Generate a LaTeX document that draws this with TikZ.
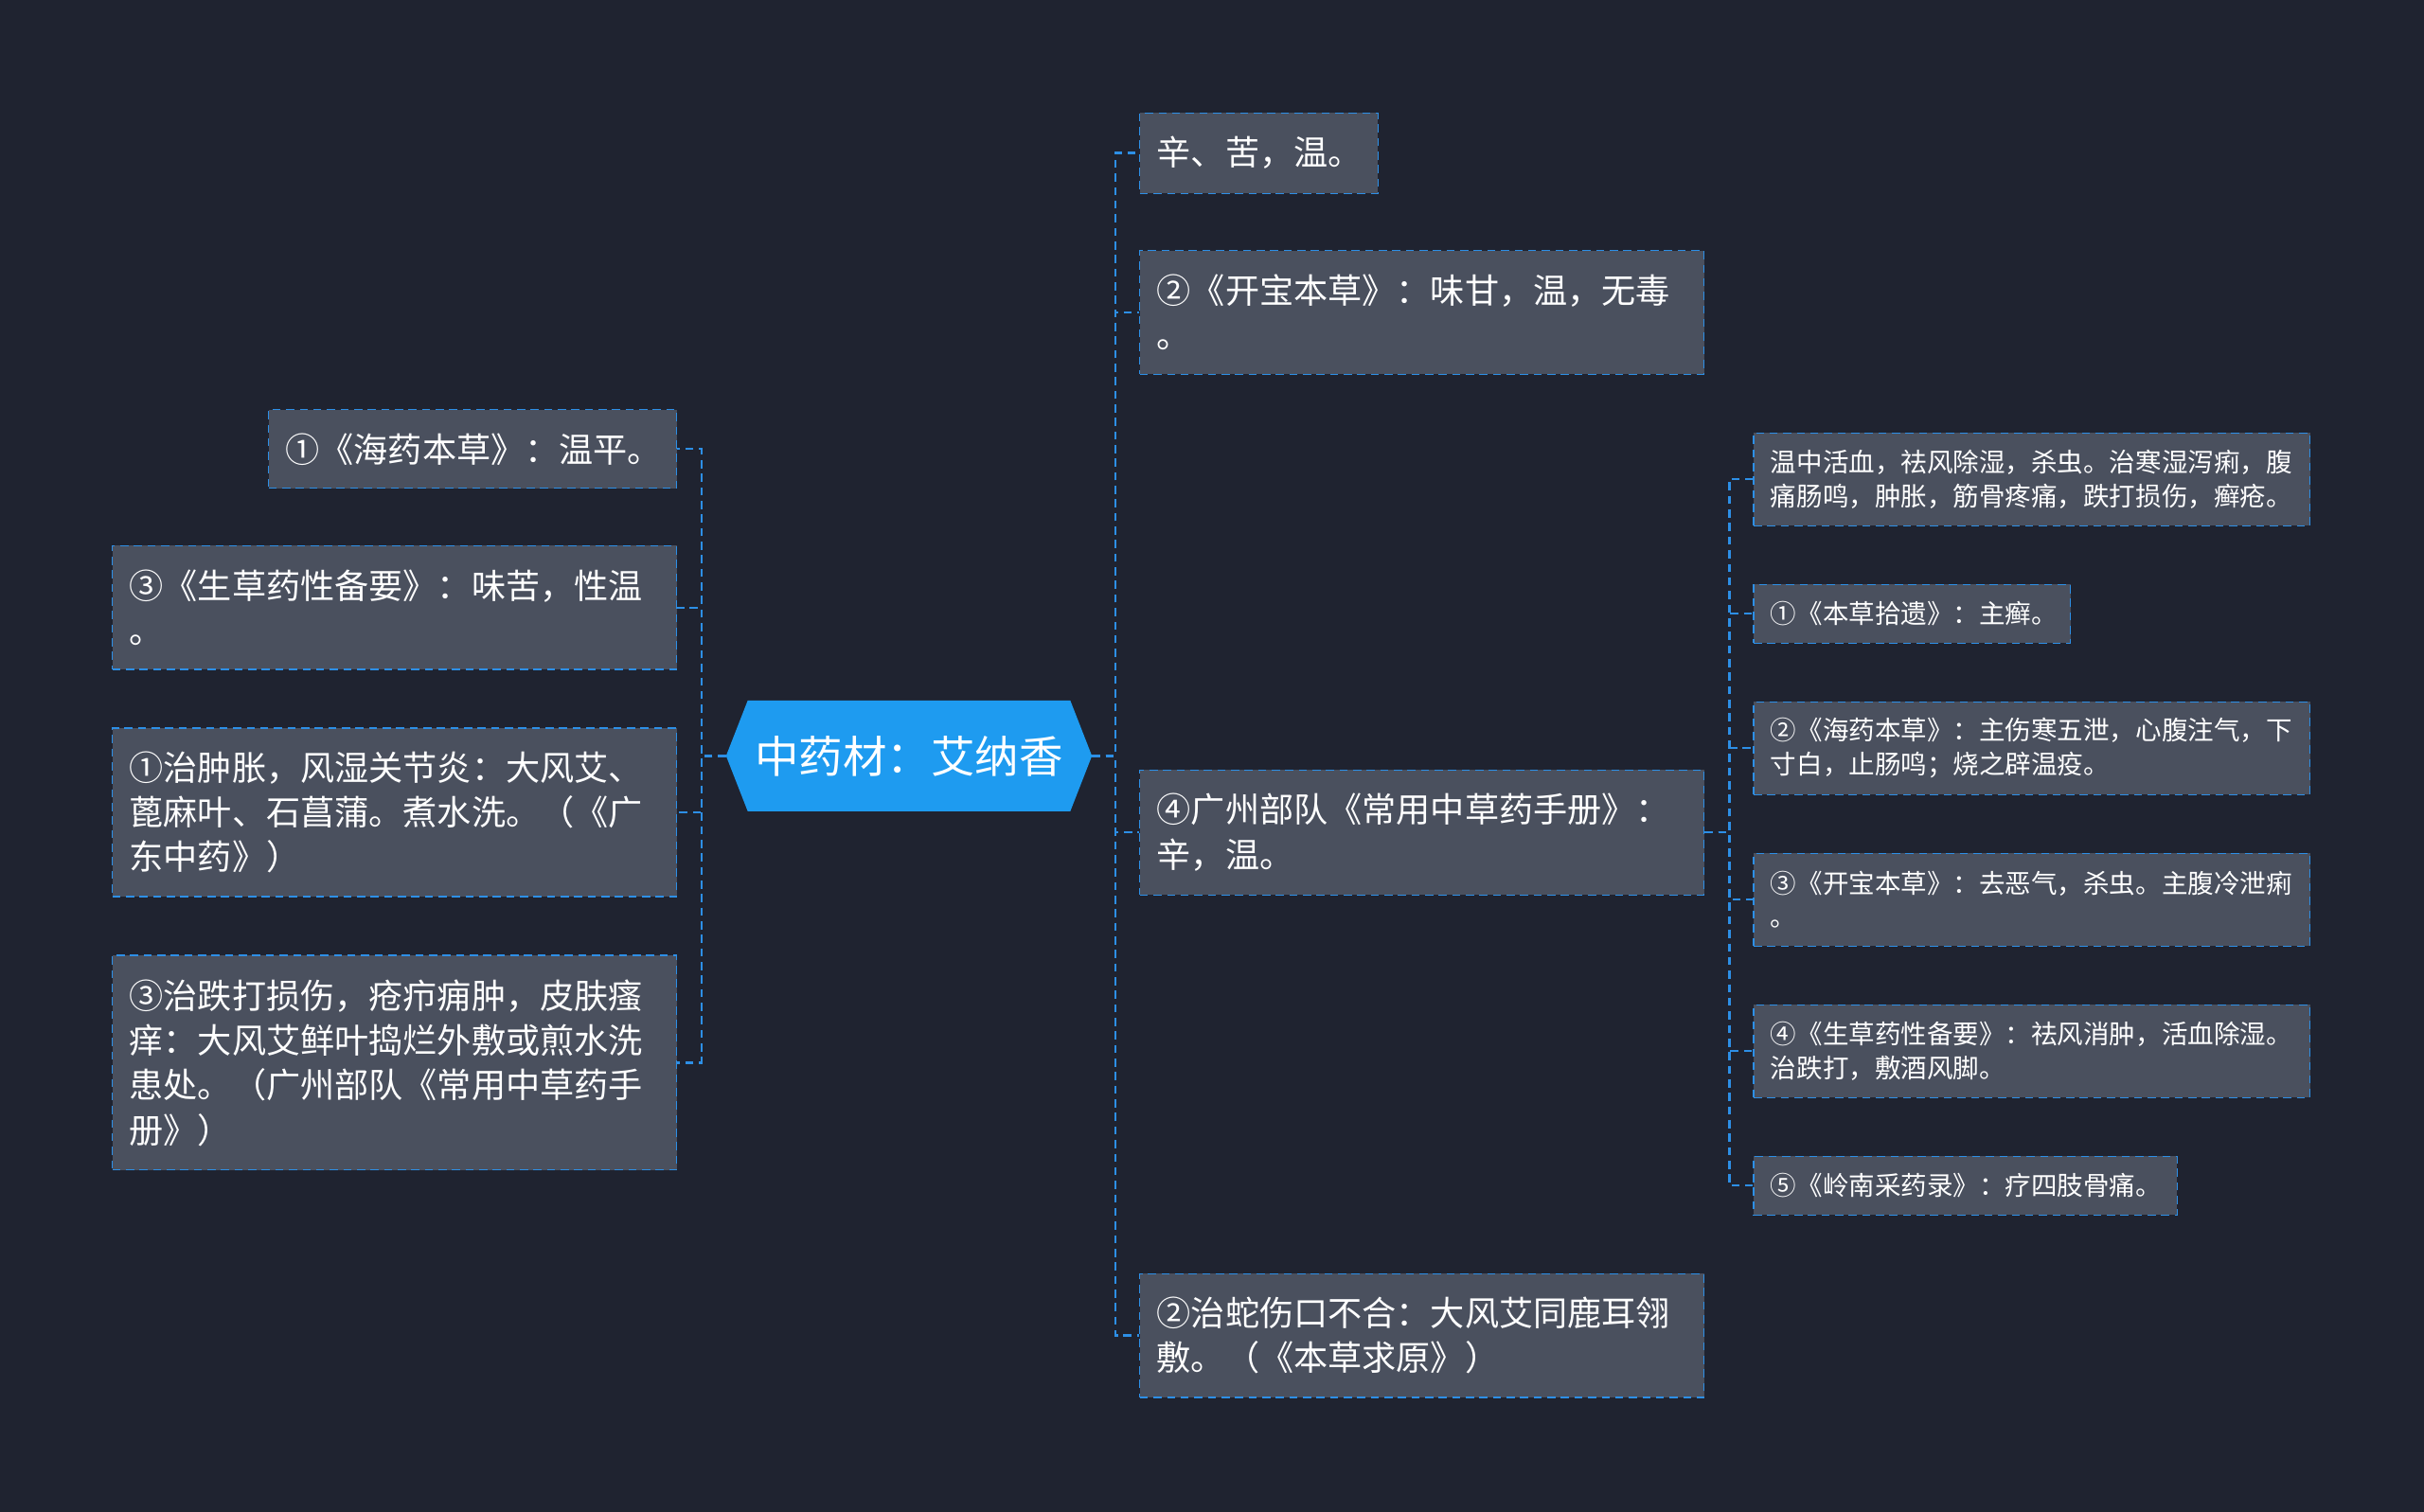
\documentclass[tikz,border=0pt]{standalone}
\usepackage{fontspec}
\setmainfont{Noto Sans CJK SC}
\definecolor{bgc}{HTML}{1F2330}
\definecolor{boxc}{HTML}{4A505E}
\definecolor{linec}{HTML}{2D8FE6}
\definecolor{mainc}{HTML}{1E9BF0}
\tikzset{
    box/.style={draw=linec, dash pattern=on 3pt off 2pt, fill=boxc, text=white,
        align=left, inner xsep=0.22cm, font=\fontsize{12.6}{16.5}\selectfont},
    small box/.style={box, font=\fontsize{9.6}{12.5}\selectfont},
    conn/.style={draw=linec, dash pattern=on 3pt off 2pt, line width=0.8pt}
    }
\begin{document}
\begin{tikzpicture}[x=0.02cm,y=-0.02cm]
\useasboundingbox[fill=bgc] (0,0) rectangle (1568,978);
% centre
\node(c)[minimum width=4.72cm, minimum height=1.42cm] at (588,489){};
\fill[mainc] (c.west) -- ([xshift=0.28cm]c.north west) -- ([xshift=-0.28cm]c.north east)
    -- (c.east) -- ([xshift=-0.28cm]c.south east) -- ([xshift=0.28cm]c.south west) -- cycle;
\node(ct)[text=white, font=\fontsize{16.2}{19}\selectfont] at (c){中药材：艾纳香};
% left
\node(l1)[box, anchor=east, text width=4.84cm, minimum height=1.02cm] at (438,290.5){①《海药本草》：温平。};
\node(l2)[box, anchor=east, text width=6.86cm, minimum height=1.6cm] at (438,393){③《生草药性备要》：味苦，性温\\。};
\node(l3)[box, anchor=east, text width=6.86cm, minimum height=2.18cm] at (438,525.5){①治肿胀，风湿关节炎：大风艾、\\蓖麻叶、石菖蒲。煮水洗。（《广\\东中药》）};
\node(l4)[box, anchor=east, text width=6.86cm, minimum height=2.78cm] at (438,687.5){③治跌打损伤，疮疖痈肿，皮肤瘙\\痒：大风艾鲜叶捣烂外敷或煎水洗\\患处。（广州部队《常用中草药手\\册》）};
% right
\node(r1)[box, anchor=west, text width=2.64cm, minimum height=1.04cm] at (737,99){辛、苦，温。};
\node(r2)[box, anchor=west, text width=6.86cm, minimum height=1.6cm] at (737,202){②《开宝本草》：味甘，温，无毒\\。};
\node(r3)[box, anchor=west, text width=6.86cm, minimum height=1.62cm] at (737,538.5){④广州部队《常用中草药手册》：\\辛，温。};
\node(r4)[box, anchor=west, text width=6.86cm, minimum height=1.6cm] at (737,864){②治蛇伤口不合：大风艾同鹿耳翎\\敷。（《本草求原》）};
% sub
\node(s1)[small box, anchor=west, text width=6.76cm, minimum height=1.2cm] at (1134,310){温中活血，祛风除湿，杀虫。治寒湿泻痢，腹\\痛肠鸣，肿胀，筋骨疼痛，跌打损伤，癣疮。};
\node(s2)[small box, anchor=west, text width=3.66cm, minimum height=0.76cm] at (1134,397){①《本草拾遗》：主癣。};
\node(s3)[small box, anchor=west, text width=6.76cm, minimum height=1.2cm] at (1134,484){②《海药本草》：主伤寒五泄，心腹注气，下\\寸白，止肠鸣；烧之辟温疫。};
\node(s4)[small box, anchor=west, text width=6.76cm, minimum height=1.2cm] at (1134,582){③《开宝本草》：去恶气，杀虫。主腹冷泄痢\\。};
\node(s5)[small box, anchor=west, text width=6.76cm, minimum height=1.2cm] at (1134,680){④《生草药性备要》：祛风消肿，活血除湿。\\治跌打，敷酒风脚。};
\node(s6)[small box, anchor=west, text width=5.04cm, minimum height=0.76cm] at (1134,767){⑤《岭南采药录》：疗四肢骨痛。};
% connectors
\foreach \n in {l1,l2,l3,l4}
    \draw[conn] (c.west) -- ++(-16,0) |- (\n.east);
\foreach \n in {r1,r2,r3,r4}
    \draw[conn] (c.east) -- ++(15,0) |- (\n.west);
\foreach \n in {s1,s2,s3,s4,s5,s6}
    \draw[conn] (r3.east) -- ++(16,0) |- (\n.west);
\end{tikzpicture}
\end{document}
